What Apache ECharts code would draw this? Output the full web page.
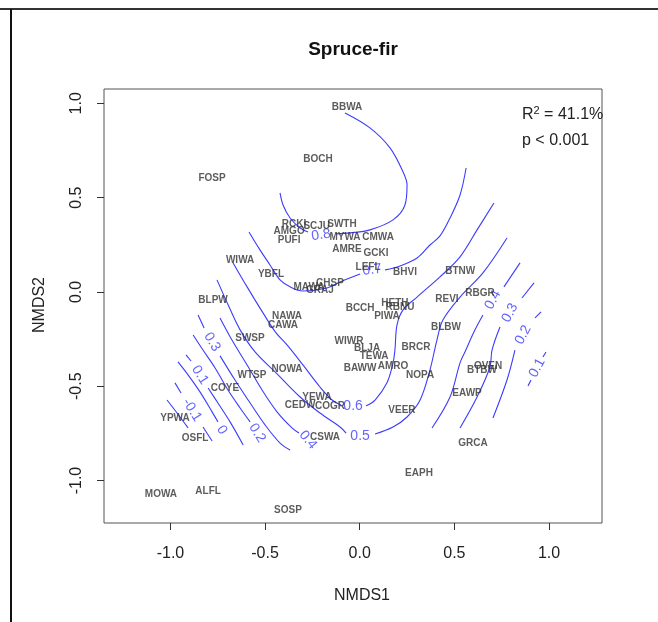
<!DOCTYPE html>
<html><head><meta charset="utf-8">
<script src="https://cdn.jsdelivr.net/npm/echarts@6/dist/echarts.min.js"></script>
<style>html,body{margin:0;padding:0;background:#fff}#c{width:658px;height:622px}</style>
</head><body><div id="c"></div>
<script>
// ---- species scores (NMDS1, NMDS2) ----
const species = ['BBWA','BOCH','FOSP','RCKI','AMGO','PUFI','SCJU','SWTH','MYWA','CMWA','AMRE','GCKI','LEFL','BHVI','YBFL','MAWA','CHSP','GRAJ','BCCH','HETH','RBNU','PIWA','BTNW','RBGR','REVI','BLBW','BLPW','WIWA','NAWA','CAWA','SWSP','WTSP','NOWA','COYE','YPWA','OSFL','MOWA','ALFL','SOSP','YEWA','CEDW','COGR','CSWA','WIWR','BLJA','TEWA','BAWW','AMRO','BRCR','NOPA','VEER','BTBW','OVEN','EAWP','GRCA','EAPH'];
const nmds1 = [-0.067,-0.220,-0.780,-0.347,-0.373,-0.373,-0.227,-0.094,-0.078,0.097,-0.067,0.086,0.044,0.239,-0.469,-0.268,-0.157,-0.210,0.002,0.186,0.213,0.144,0.531,0.635,0.461,0.456,-0.775,-0.632,-0.384,-0.405,-0.580,-0.569,-0.384,-0.712,-0.976,-0.870,-1.050,-0.801,-0.379,-0.226,-0.315,-0.157,-0.183,-0.057,0.039,0.076,0.002,0.176,0.297,0.319,0.223,0.646,0.678,0.567,0.598,0.313];
const nmds2 = [0.981,0.705,0.604,0.361,0.324,0.276,0.350,0.361,0.292,0.292,0.228,0.207,0.133,0.106,0.095,0.027,0.048,0.011,-0.085,-0.058,-0.080,-0.127,0.111,-0.005,-0.037,-0.186,-0.042,0.170,-0.127,-0.175,-0.244,-0.440,-0.408,-0.509,-0.668,-0.774,-1.071,-1.055,-1.156,-0.557,-0.599,-0.604,-0.769,-0.260,-0.297,-0.339,-0.403,-0.392,-0.292,-0.440,-0.626,-0.414,-0.392,-0.536,-0.801,-0.960];

// ---- axis ticks ----
const xTicks = [-1, -0.5, 0, 0.5, 1];
const yTicks = [-1, -0.5, 0, 0.5, 1];

// ---- fitted surface contour lines (NMDS units) ----
const c08a = [[-0.421,0.525],[-0.405,0.461],[-0.368,0.392],[-0.315,0.339],[-0.273,0.318]];
const c08b = [[-0.125,0.308],[-0.051,0.313],[0.054,0.329],[0.176,0.382],[0.239,0.461],[0.250,0.567],[0.229,0.636],[0.160,0.764],[0.054,0.870],[-0.078,0.949]];
const c07a = [[0.562,0.657],[0.530,0.514],[0.477,0.392],[0.424,0.297],[0.371,0.249],[0.303,0.180],[0.213,0.138],[0.134,0.117]];
const c07b = [[0.002,0.095],[-0.104,0.053],[-0.173,0.021],[-0.300,0.005],[-0.368,0.027],[-0.421,0.064],[-0.474,0.143],[-0.527,0.223],[-0.585,0.318]];
const c06a = [[0.709,0.472],[0.620,0.329],[0.530,0.186],[0.424,0.080],[0.303,-0.027],[0.229,-0.095],[0.197,-0.175],[0.186,-0.308],[0.176,-0.376],[0.144,-0.482],[0.081,-0.573],[0.033,-0.604]];
const c06b = [[-0.099,-0.599],[-0.146,-0.573],[-0.210,-0.504],[-0.300,-0.387],[-0.384,-0.281],[-0.442,-0.217],[-0.511,-0.111],[-0.595,0.027],[-0.669,0.154]];
const c05a = [[0.778,0.286],[0.651,0.101],[0.530,-0.027],[0.440,-0.148],[0.408,-0.255],[0.371,-0.414],[0.319,-0.573],[0.250,-0.663],[0.176,-0.716],[0.081,-0.753]];
const c05b = [[-0.072,-0.748],[-0.104,-0.716],[-0.210,-0.642],[-0.315,-0.557],[-0.447,-0.424],[-0.553,-0.318],[-0.632,-0.201],[-0.690,-0.080],[-0.754,0.064]];
const c04L = [[-0.738,-0.138],[-0.675,-0.255],[-0.595,-0.387],[-0.516,-0.520],[-0.437,-0.636],[-0.358,-0.721],[-0.321,-0.748]];
const c03La = [[-0.854,-0.122],[-0.822,-0.191]];
const c03Lb = [[-0.738,-0.339],[-0.659,-0.467],[-0.579,-0.589],[-0.500,-0.705],[-0.421,-0.801],[-0.368,-0.838]];
const c02L = [[-0.880,-0.228],[-0.828,-0.308],[-0.764,-0.403],[-0.696,-0.520],[-0.632,-0.615],[-0.579,-0.689]];
const c01La = [[-0.918,-0.334],[-0.891,-0.366]];
const c01Lb = [[-0.801,-0.509],[-0.749,-0.589],[-0.685,-0.689],[-0.616,-0.811]];
const c00L = [[-0.960,-0.371],[-0.907,-0.440],[-0.844,-0.530],[-0.780,-0.636],[-0.749,-0.689]];
const cm01a = [[-0.976,-0.482],[-0.944,-0.536]];
const cm01b = [[-0.828,-0.716],[-0.780,-0.790]];
const cm02 = [[-1.018,-0.573],[-0.965,-0.642],[-0.907,-0.721]];
const c04Ra = [[0.847,0.154],[0.762,0.027]];
const c04Rb = [[0.651,-0.122],[0.609,-0.201],[0.556,-0.318],[0.530,-0.376],[0.477,-0.557],[0.382,-0.721]];
const c03Ra = [[0.921,0.048],[0.857,-0.032]];
const c03Rb = [[0.741,-0.186],[0.699,-0.308],[0.688,-0.398],[0.620,-0.557],[0.530,-0.721]];
const c02Ra = [[0.958,-0.106],[0.926,-0.138]];
const c02Rb = [[0.820,-0.308],[0.778,-0.467],[0.704,-0.668]];
const c01Ra = [[0.984,-0.318],[0.968,-0.345]];
const c01Rb = [[0.905,-0.467],[0.889,-0.498]];

// ---- contour labels ----
const contourLabelText = ['0.8','0.7','0.6','0.5','0.4','0.3','0.2','0.1','0','-0.1','0.4','0.3','0.2','0.1'];
const contourLabelX = [-0.204,0.065,-0.035,0.002,-0.273,-0.780,-0.542,-0.844,-0.728,-0.886,0.704,0.794,0.863,0.937];
const contourLabelY = [0.302,0.117,-0.604,-0.764,-0.785,-0.265,-0.748,-0.440,-0.732,-0.626,-0.042,-0.111,-0.228,-0.403];

// ---- styling (not data) ----
const contourLabelRotate = [8,8,0,0,-50,-58,-58,-58,-58,-58,62,62,62,62];
const BLUE = '#3c3cff';
const FONT = 'Liberation Sans, Arial, sans-serif';

const segments = [c08a,c08b,c07a,c07b,c06a,c06b,c05a,c05b,c04L,c03La,c03Lb,c02L,c01La,c01Lb,c00L,cm01a,cm01b,cm02,c04Ra,c04Rb,c03Ra,c03Rb,c02Ra,c02Rb,c01Ra,c01Rb];

const series = segments.map(seg => ({
  type: 'line', data: seg, showSymbol: false, symbol: 'none', smooth: 0.35,
  lineStyle: { color: BLUE, width: 1.1 }, silent: true, z: 2
}));

series.push({
  type: 'scatter', symbolSize: 0, silent: true, z: 3,
  data: contourLabelText.map((t, i) => ({
    value: [contourLabelX[i], contourLabelY[i]], name: t,
    label: { rotate: contourLabelRotate[i] }
  })),
  label: { show: true, position: 'inside', formatter: p => p.name, color: BLUE,
           fontSize: 14, fontFamily: FONT }
});

series.push({
  type: 'scatter', symbolSize: 0, silent: true, z: 4,
  data: species.map((s, i) => ({ value: [nmds1[i], nmds2[i]], name: s })),
  label: { show: true, position: 'inside', formatter: p => p.name, color: '#333',
           fontSize: 10, fontWeight: 'bold', fontFamily: FONT }
});

const chart = echarts.init(document.getElementById('c'), null, { renderer: 'canvas' });
chart.setOption({
  animation: false,
  backgroundColor: '#fff',
  grid: { left: 104, right: 56, top: 89, bottom: 99, show: true, borderColor: '#555', borderWidth: 1, backgroundColor: 'transparent' },
  xAxis: {
    type: 'value', min: -1.351, max: 1.28,
    axisLine: { show: false, onZero: false }, splitLine: { show: false },
    axisTick: { show: true, customValues: xTicks, length: 7, lineStyle: { color: '#333' } },
    axisLabel: { customValues: xTicks, formatter: v => v.toFixed(1), fontSize: 16, color: '#222', margin: 23, fontFamily: FONT }
  },
  yAxis: {
    type: 'value', min: -1.225, max: 1.076,
    axisLine: { show: false, onZero: false }, splitLine: { show: false },
    axisTick: { show: true, customValues: yTicks, length: 7, lineStyle: { color: '#333' } },
    axisLabel: { customValues: yTicks, formatter: v => v.toFixed(1), fontSize: 16, color: '#222', margin: 19,
                 rotate: 90, align: 'center', verticalAlign: 'bottom', fontFamily: FONT }
  },
  graphic: [
    { type: 'line', shape: { x1: 0, y1: 9, x2: 658, y2: 9 }, style: { stroke: '#333', lineWidth: 2 }, z: 10 },
    { type: 'line', shape: { x1: 11, y1: 9, x2: 11, y2: 622 }, style: { stroke: '#111', lineWidth: 2 }, z: 10 },
    { type: 'text', x: 353, y: 50, style: { text: 'Spruce-fir', font: 'bold 19px ' + FONT, fill: '#111', textAlign: 'center', textVerticalAlign: 'middle' } },
    { type: 'text', x: 362, y: 596, style: { text: 'NMDS1', font: '16px ' + FONT, fill: '#222', textAlign: 'center', textVerticalAlign: 'middle' } },
    { type: 'text', x: 40, y: 305, rotation: Math.PI / 2, style: { text: 'NMDS2', font: '16px ' + FONT, fill: '#222', textAlign: 'center', textVerticalAlign: 'middle' } },
    { type: 'text', x: 522, y: 115, style: { text: '{a|R}{b|2}{a| = 41.1%}', textVerticalAlign: 'middle',
        rich: { a: { font: '16px ' + FONT, fill: '#222' }, b: { font: '11px ' + FONT, fill: '#222', verticalAlign: 'top', padding: [0,0,8,0] } } } },
    { type: 'text', x: 522, y: 141, style: { text: 'p < 0.001', font: '16px ' + FONT, fill: '#222', textVerticalAlign: 'middle' } }
  ],
  series: series
});
</script>
</body></html>
